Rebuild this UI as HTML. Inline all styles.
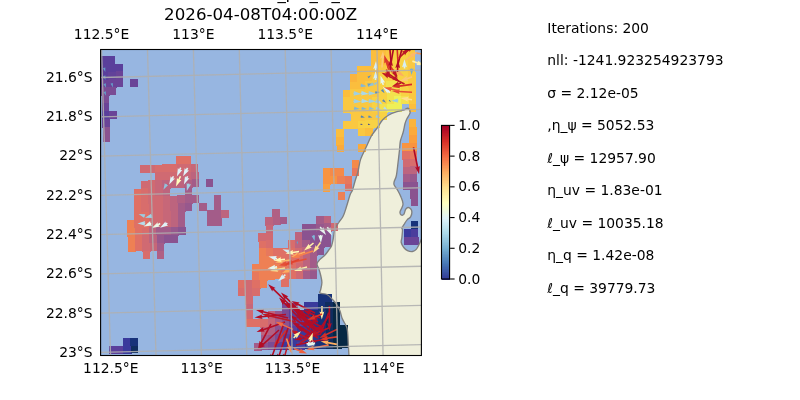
<!DOCTYPE html>
<html><head><meta charset="utf-8"><title>plot</title>
<style>
html,body{margin:0;padding:0;background:#fff;}
svg{display:block;}
text{font-family:"DejaVu Sans","Liberation Sans",sans-serif;fill:#000;}
.t10{font-size:13.89px;}
.t12{font-size:16.67px;}
</style></head><body>
<svg width="800" height="400" viewBox="0 0 800 400">
<rect width="800" height="400" fill="#fff"/>
<defs><clipPath id="ax"><rect x="100.60" y="49.50" width="320.80" height="306.00"/></clipPath>
</defs>
<rect x="100.60" y="49.50" width="320.80" height="306.00" fill="#97b6e1"/>
<g clip-path="url(#ax)">
<path d="M421.5 239.0 C421.1 239.8 420.3 242.0 419.4 243.8 C418.5 245.5 417.4 248.1 416.2 249.4 C415.1 250.7 414.0 251.3 412.5 251.5 C411.0 251.7 409.0 251.3 407.5 250.6 C406.0 249.9 404.8 248.8 403.8 247.5 C402.7 246.2 401.6 244.2 401.2 242.5 C400.9 240.8 401.7 239.6 401.9 237.5 C402.1 235.4 402.5 231.6 402.5 230.0 C402.5 228.4 401.6 229.0 401.9 228.0 C402.2 227.0 403.5 225.2 404.4 223.8 C405.3 222.3 406.5 220.5 407.5 219.4 C408.5 218.3 409.9 218.2 410.6 216.9 C411.3 215.7 411.9 213.3 411.9 211.9 C411.9 210.5 411.2 209.5 410.6 208.8 C410.0 208.0 408.8 207.4 408.0 207.5 C407.2 207.6 406.3 208.2 405.6 209.4 C404.9 210.6 404.5 213.5 403.8 214.4 C403.0 215.3 401.9 215.4 401.2 215.0 C400.6 214.6 399.9 213.2 400.0 212.0 C400.1 210.8 401.5 208.9 402.0 207.5 C402.5 206.1 403.1 205.4 403.0 203.8 C402.9 202.1 402.2 199.8 401.2 197.5 C400.3 195.2 398.7 192.1 397.5 190.0 C396.3 187.9 394.8 186.4 394.2 185.0 C393.6 183.6 393.8 183.1 394.2 181.5 C394.6 179.9 395.8 178.6 396.4 175.5 C397.0 172.4 397.5 167.2 398.0 163.0 C398.5 158.8 399.1 153.7 399.5 150.0 C399.9 146.3 399.8 143.9 400.4 141.0 C401.0 138.1 402.3 135.4 403.1 132.5 C403.9 129.6 404.4 126.0 405.0 123.8 C405.6 121.5 406.1 120.5 406.9 118.8 C407.7 117.0 409.6 114.7 410.0 113.1 C410.4 111.5 409.9 110.2 409.4 109.4 C408.9 108.6 407.8 108.2 406.9 108.3 C406.0 108.4 405.5 109.4 403.8 110.0 C402.0 110.6 398.8 111.1 396.2 111.9 C393.8 112.7 391.0 113.7 388.8 115.0 C386.5 116.3 384.4 117.9 382.5 120.0 C380.6 122.1 379.4 124.8 377.5 127.5 C375.6 130.2 373.1 133.0 371.2 136.2 C369.4 139.5 368.0 143.1 366.2 147.0 C364.5 150.9 362.0 155.4 360.6 159.4 C359.2 163.4 359.0 167.6 358.1 171.2 C357.2 174.9 355.9 178.1 355.0 181.2 C354.1 184.4 353.3 187.7 352.5 190.0 C351.7 192.3 351.0 192.1 350.0 195.0 C349.0 197.9 347.4 204.0 346.2 207.5 C345.1 211.0 344.4 213.8 343.1 216.2 C341.9 218.8 340.1 220.4 338.8 222.5 C337.4 224.6 336.0 226.1 335.0 229.0 C334.0 231.9 333.6 237.2 333.0 240.0 C332.4 242.8 332.2 244.3 331.5 246.0 C330.8 247.7 329.8 248.5 328.8 250.0 C327.7 251.5 326.5 253.4 325.0 255.0 C323.5 256.6 321.3 257.9 320.0 259.4 C318.7 260.9 317.2 262.2 317.0 263.8 C316.8 265.3 318.1 266.9 318.8 268.8 C319.4 270.6 320.1 272.7 320.6 275.0 C321.1 277.3 321.9 280.0 321.9 282.5 C321.9 285.0 320.9 288.2 320.6 290.0 C320.3 291.8 318.9 292.2 320.0 293.0 C321.1 293.8 324.8 293.3 327.0 294.5 C329.2 295.7 331.3 298.2 333.0 300.0 C334.7 301.8 335.8 303.2 337.0 305.0 C338.2 306.8 339.2 308.8 340.0 311.0 C340.8 313.2 341.3 316.2 342.0 318.0 C342.7 319.8 343.2 320.3 344.0 322.0 C344.8 323.7 346.3 325.3 347.0 328.0 C347.7 330.7 347.8 334.7 348.0 338.0 C348.2 341.3 348.3 345.0 348.5 348.0 C348.7 351.0 348.9 354.7 349.0 356.0 L421.5 356 L421.5 239 Z" fill="#efefdb"/>
<g shape-rendering="crispEdges">
<rect x="101.0" y="56.0" width="8.0" height="9.0" fill="#5a3f9b"/>
<rect x="108.0" y="56.0" width="7.0" height="9.0" fill="#5a3f9b"/>
<rect x="371.0" y="50.0" width="9.0" height="9.0" fill="#fbbe3d"/>
<rect x="379.0" y="49.0" width="8.0" height="9.0" fill="#fbbe3d"/>
<rect x="386.0" y="49.0" width="8.0" height="9.0" fill="#fac841"/>
<rect x="393.0" y="49.0" width="8.0" height="9.0" fill="#f8d244"/>
<rect x="400.0" y="49.0" width="9.0" height="9.0" fill="#f8d244"/>
<rect x="408.0" y="49.0" width="7.0" height="9.0" fill="#fac841"/>
<rect x="101.0" y="64.0" width="8.0" height="9.0" fill="#5a3f9b"/>
<rect x="108.0" y="64.0" width="8.0" height="9.0" fill="#5a3f9b"/>
<rect x="115.0" y="64.0" width="8.0" height="8.0" fill="#5a3f9b"/>
<rect x="371.0" y="58.0" width="9.0" height="8.0" fill="#fbbe3d"/>
<rect x="379.0" y="57.0" width="8.0" height="9.0" fill="#fbbe3d"/>
<rect x="386.0" y="57.0" width="8.0" height="9.0" fill="#fac841"/>
<rect x="393.0" y="57.0" width="9.0" height="9.0" fill="#f8d244"/>
<rect x="401.0" y="57.0" width="8.0" height="9.0" fill="#f8d244"/>
<rect x="408.0" y="57.0" width="7.0" height="8.0" fill="#fac841"/>
<rect x="101.0" y="72.0" width="8.0" height="9.0" fill="#5a3f9b"/>
<rect x="108.0" y="72.0" width="9.0" height="8.0" fill="#624299"/>
<rect x="116.0" y="71.0" width="7.0" height="9.0" fill="#6a4497"/>
<rect x="357.0" y="66.0" width="8.0" height="9.0" fill="#fbbe3d"/>
<rect x="364.0" y="66.0" width="9.0" height="8.0" fill="#fbbe3d"/>
<rect x="372.0" y="65.0" width="8.0" height="9.0" fill="#fbbe3d"/>
<rect x="379.0" y="65.0" width="8.0" height="9.0" fill="#fac841"/>
<rect x="386.0" y="65.0" width="8.0" height="9.0" fill="#f8d244"/>
<rect x="393.0" y="65.0" width="9.0" height="9.0" fill="#f8d244"/>
<rect x="401.0" y="65.0" width="8.0" height="8.0" fill="#f8d244"/>
<rect x="408.0" y="64.0" width="7.0" height="9.0" fill="#fac841"/>
<rect x="101.0" y="80.0" width="9.0" height="8.0" fill="#6a4497"/>
<rect x="109.0" y="79.0" width="8.0" height="9.0" fill="#6a4497"/>
<rect x="116.0" y="79.0" width="7.0" height="8.0" fill="#6a4497"/>
<rect x="130.0" y="79.0" width="8.0" height="8.0" fill="#6a4497"/>
<rect x="350.0" y="74.0" width="8.0" height="9.0" fill="#fbb43c"/>
<rect x="357.0" y="74.0" width="8.0" height="8.0" fill="#fbbe3d"/>
<rect x="364.0" y="73.0" width="9.0" height="9.0" fill="#fbbe3d"/>
<rect x="372.0" y="73.0" width="8.0" height="9.0" fill="#fac841"/>
<rect x="379.0" y="73.0" width="8.0" height="9.0" fill="#f8d244"/>
<rect x="386.0" y="73.0" width="9.0" height="9.0" fill="#f8d244"/>
<rect x="394.0" y="73.0" width="8.0" height="9.0" fill="#f8d244"/>
<rect x="401.0" y="72.0" width="8.0" height="9.0" fill="#f8d244"/>
<rect x="408.0" y="72.0" width="8.0" height="9.0" fill="#fac841"/>
<rect x="101.0" y="87.0" width="9.0" height="9.0" fill="#7a4c94"/>
<rect x="109.0" y="87.0" width="7.0" height="8.0" fill="#7a4c94"/>
<rect x="350.0" y="82.0" width="8.0" height="8.0" fill="#fbbe3d"/>
<rect x="357.0" y="81.0" width="9.0" height="9.0" fill="#fbbe3d"/>
<rect x="365.0" y="81.0" width="8.0" height="9.0" fill="#fac841"/>
<rect x="372.0" y="81.0" width="8.0" height="9.0" fill="#fac841"/>
<rect x="379.0" y="81.0" width="8.0" height="9.0" fill="#f8d244"/>
<rect x="386.0" y="81.0" width="9.0" height="9.0" fill="#f3e14e"/>
<rect x="394.0" y="81.0" width="8.0" height="8.0" fill="#f3e14e"/>
<rect x="401.0" y="80.0" width="8.0" height="9.0" fill="#f8d244"/>
<rect x="408.0" y="80.0" width="8.0" height="9.0" fill="#fac841"/>
<rect x="102.0" y="95.0" width="7.0" height="9.0" fill="#7a4c94"/>
<rect x="343.0" y="90.0" width="8.0" height="8.0" fill="#fbbe3d"/>
<rect x="350.0" y="89.0" width="8.0" height="9.0" fill="#fac841"/>
<rect x="357.0" y="89.0" width="9.0" height="9.0" fill="#fac841"/>
<rect x="365.0" y="89.0" width="8.0" height="9.0" fill="#fac841"/>
<rect x="372.0" y="89.0" width="8.0" height="9.0" fill="#fac841"/>
<rect x="379.0" y="89.0" width="9.0" height="9.0" fill="#f8d244"/>
<rect x="387.0" y="89.0" width="8.0" height="8.0" fill="#f3e14e"/>
<rect x="394.0" y="88.0" width="8.0" height="9.0" fill="#f3e14e"/>
<rect x="401.0" y="88.0" width="9.0" height="9.0" fill="#f8d244"/>
<rect x="409.0" y="88.0" width="7.0" height="9.0" fill="#fac841"/>
<rect x="102.0" y="103.0" width="7.0" height="9.0" fill="#6a4497"/>
<rect x="343.0" y="97.0" width="8.0" height="9.0" fill="#fac841"/>
<rect x="350.0" y="97.0" width="9.0" height="9.0" fill="#fac841"/>
<rect x="358.0" y="97.0" width="8.0" height="9.0" fill="#fac841"/>
<rect x="365.0" y="97.0" width="8.0" height="9.0" fill="#fac841"/>
<rect x="372.0" y="97.0" width="8.0" height="9.0" fill="#f8d244"/>
<rect x="379.0" y="97.0" width="9.0" height="8.0" fill="#f8d244"/>
<rect x="387.0" y="96.0" width="8.0" height="9.0" fill="#f3e14e"/>
<rect x="394.0" y="96.0" width="8.0" height="9.0" fill="#eef058"/>
<rect x="401.0" y="96.0" width="9.0" height="8.0" fill="#f3e14e"/>
<rect x="409.0" y="96.0" width="7.0" height="9.0" fill="#fac841"/>
<rect x="102.0" y="111.0" width="8.0" height="9.0" fill="#5a3f9b"/>
<rect x="109.0" y="111.0" width="8.0" height="8.0" fill="#6a4497"/>
<rect x="343.0" y="105.0" width="8.0" height="8.0" fill="#fac841"/>
<rect x="350.0" y="105.0" width="9.0" height="9.0" fill="#fac841"/>
<rect x="358.0" y="105.0" width="8.0" height="9.0" fill="#fac841"/>
<rect x="365.0" y="105.0" width="8.0" height="9.0" fill="#fac841"/>
<rect x="372.0" y="105.0" width="9.0" height="8.0" fill="#f8d244"/>
<rect x="380.0" y="104.0" width="8.0" height="9.0" fill="#f3e14e"/>
<rect x="387.0" y="104.0" width="8.0" height="8.0" fill="#eef058"/>
<rect x="394.0" y="104.0" width="8.0" height="8.0" fill="#eef058"/>
<rect x="409.0" y="104.0" width="7.0" height="8.0" fill="#fbbe3d"/>
<rect x="102.0" y="119.0" width="8.0" height="9.0" fill="#6a4497"/>
<rect x="351.0" y="113.0" width="8.0" height="9.0" fill="#fac841"/>
<rect x="358.0" y="113.0" width="8.0" height="9.0" fill="#fac841"/>
<rect x="365.0" y="113.0" width="8.0" height="8.0" fill="#fac841"/>
<rect x="372.0" y="112.0" width="9.0" height="9.0" fill="#fac841"/>
<rect x="380.0" y="112.0" width="7.0" height="8.0" fill="#f8d244"/>
<rect x="103.0" y="127.0" width="7.0" height="8.0" fill="#8a5390"/>
<rect x="343.0" y="121.0" width="9.0" height="8.0" fill="#fac841"/>
<rect x="351.0" y="121.0" width="8.0" height="8.0" fill="#fac841"/>
<rect x="358.0" y="121.0" width="8.0" height="8.0" fill="#f8d244"/>
<rect x="365.0" y="120.0" width="9.0" height="9.0" fill="#f8d244"/>
<rect x="373.0" y="120.0" width="7.0" height="8.0" fill="#f8d244"/>
<rect x="409.0" y="119.0" width="7.0" height="9.0" fill="#fbb43c"/>
<rect x="103.0" y="134.0" width="7.0" height="8.0" fill="#8a5390"/>
<rect x="336.0" y="129.0" width="8.0" height="9.0" fill="#fbbe3d"/>
<rect x="358.0" y="128.0" width="8.0" height="8.0" fill="#fac841"/>
<rect x="365.0" y="128.0" width="8.0" height="8.0" fill="#fbbe3d"/>
<rect x="409.0" y="127.0" width="8.0" height="9.0" fill="#fbaa3b"/>
<rect x="336.0" y="137.0" width="8.0" height="9.0" fill="#fbb43c"/>
<rect x="409.0" y="135.0" width="8.0" height="9.0" fill="#fa9f3e"/>
<rect x="337.0" y="145.0" width="7.0" height="7.0" fill="#fbaa3b"/>
<rect x="358.0" y="144.0" width="8.0" height="8.0" fill="#fbaa3b"/>
<rect x="402.0" y="143.0" width="9.0" height="9.0" fill="#f99440"/>
<rect x="410.0" y="143.0" width="7.0" height="9.0" fill="#f99440"/>
<rect x="176.0" y="156.0" width="9.0" height="9.0" fill="#df7065"/>
<rect x="184.0" y="156.0" width="7.0" height="9.0" fill="#df7065"/>
<rect x="402.0" y="151.0" width="9.0" height="9.0" fill="#df7065"/>
<rect x="410.0" y="151.0" width="7.0" height="9.0" fill="#e7785d"/>
<rect x="140.0" y="165.0" width="8.0" height="8.0" fill="#d06a72"/>
<rect x="147.0" y="165.0" width="9.0" height="8.0" fill="#d06a72"/>
<rect x="155.0" y="165.0" width="8.0" height="8.0" fill="#d86d6c"/>
<rect x="162.0" y="164.0" width="8.0" height="9.0" fill="#d86d6c"/>
<rect x="169.0" y="164.0" width="9.0" height="9.0" fill="#d86d6c"/>
<rect x="177.0" y="164.0" width="8.0" height="9.0" fill="#d06a72"/>
<rect x="184.0" y="164.0" width="8.0" height="9.0" fill="#d06a72"/>
<rect x="191.0" y="164.0" width="7.0" height="9.0" fill="#c76778"/>
<rect x="352.0" y="160.0" width="7.0" height="9.0" fill="#f48a4a"/>
<rect x="403.0" y="159.0" width="8.0" height="9.0" fill="#d06a72"/>
<rect x="410.0" y="159.0" width="7.0" height="8.0" fill="#d86d6c"/>
<rect x="155.0" y="172.0" width="8.0" height="9.0" fill="#d06a72"/>
<rect x="162.0" y="172.0" width="9.0" height="9.0" fill="#d06a72"/>
<rect x="170.0" y="172.0" width="8.0" height="9.0" fill="#d06a72"/>
<rect x="177.0" y="172.0" width="8.0" height="9.0" fill="#c76778"/>
<rect x="184.0" y="172.0" width="8.0" height="9.0" fill="#c76778"/>
<rect x="191.0" y="172.0" width="8.0" height="8.0" fill="#bd647e"/>
<rect x="323.0" y="168.0" width="8.0" height="9.0" fill="#f99440"/>
<rect x="330.0" y="168.0" width="8.0" height="9.0" fill="#f48a4a"/>
<rect x="337.0" y="168.0" width="7.0" height="9.0" fill="#f48a4a"/>
<rect x="352.0" y="168.0" width="7.0" height="8.0" fill="#e7785d"/>
<rect x="403.0" y="167.0" width="8.0" height="8.0" fill="#bd647e"/>
<rect x="410.0" y="166.0" width="7.0" height="9.0" fill="#bd647e"/>
<rect x="141.0" y="181.0" width="8.0" height="8.0" fill="#d06a72"/>
<rect x="148.0" y="180.0" width="8.0" height="9.0" fill="#d06a72"/>
<rect x="155.0" y="180.0" width="8.0" height="9.0" fill="#c76778"/>
<rect x="162.0" y="180.0" width="9.0" height="9.0" fill="#bd647e"/>
<rect x="170.0" y="180.0" width="8.0" height="8.0" fill="#bd647e"/>
<rect x="177.0" y="180.0" width="8.0" height="8.0" fill="#bd647e"/>
<rect x="184.0" y="180.0" width="9.0" height="8.0" fill="#b06084"/>
<rect x="192.0" y="179.0" width="7.0" height="8.0" fill="#a35c89"/>
<rect x="206.0" y="179.0" width="7.0" height="8.0" fill="#8a5390"/>
<rect x="323.0" y="176.0" width="8.0" height="9.0" fill="#f99440"/>
<rect x="330.0" y="176.0" width="8.0" height="8.0" fill="#f99440"/>
<rect x="337.0" y="176.0" width="9.0" height="8.0" fill="#ee8054"/>
<rect x="345.0" y="176.0" width="7.0" height="9.0" fill="#e7785d"/>
<rect x="403.0" y="174.0" width="8.0" height="9.0" fill="#a35c89"/>
<rect x="410.0" y="174.0" width="7.0" height="9.0" fill="#97588d"/>
<rect x="134.0" y="189.0" width="8.0" height="8.0" fill="#df7065"/>
<rect x="141.0" y="188.0" width="8.0" height="9.0" fill="#d86d6c"/>
<rect x="148.0" y="188.0" width="8.0" height="9.0" fill="#d06a72"/>
<rect x="155.0" y="188.0" width="9.0" height="9.0" fill="#c76778"/>
<rect x="163.0" y="188.0" width="7.0" height="9.0" fill="#bd647e"/>
<rect x="185.0" y="187.0" width="7.0" height="9.0" fill="#a35c89"/>
<rect x="323.0" y="184.0" width="7.0" height="8.0" fill="#fa9f3e"/>
<rect x="345.0" y="184.0" width="7.0" height="7.0" fill="#df7065"/>
<rect x="403.0" y="182.0" width="8.0" height="8.0" fill="#8a5390"/>
<rect x="410.0" y="182.0" width="8.0" height="9.0" fill="#8a5390"/>
<rect x="134.0" y="196.0" width="8.0" height="9.0" fill="#df7065"/>
<rect x="141.0" y="196.0" width="8.0" height="9.0" fill="#d86d6c"/>
<rect x="148.0" y="196.0" width="9.0" height="9.0" fill="#d06a72"/>
<rect x="156.0" y="196.0" width="8.0" height="9.0" fill="#d06a72"/>
<rect x="163.0" y="196.0" width="8.0" height="9.0" fill="#c76778"/>
<rect x="170.0" y="196.0" width="8.0" height="8.0" fill="#bd647e"/>
<rect x="177.0" y="195.0" width="9.0" height="9.0" fill="#b06084"/>
<rect x="185.0" y="195.0" width="8.0" height="9.0" fill="#a35c89"/>
<rect x="192.0" y="195.0" width="7.0" height="8.0" fill="#a35c89"/>
<rect x="214.0" y="195.0" width="7.0" height="8.0" fill="#a35c89"/>
<rect x="338.0" y="192.0" width="7.0" height="8.0" fill="#ee8054"/>
<rect x="410.0" y="190.0" width="8.0" height="9.0" fill="#8a5390"/>
<rect x="134.0" y="204.0" width="8.0" height="9.0" fill="#df7065"/>
<rect x="141.0" y="204.0" width="9.0" height="9.0" fill="#d86d6c"/>
<rect x="149.0" y="204.0" width="8.0" height="9.0" fill="#d06a72"/>
<rect x="156.0" y="204.0" width="8.0" height="9.0" fill="#d06a72"/>
<rect x="163.0" y="204.0" width="8.0" height="8.0" fill="#c76778"/>
<rect x="170.0" y="203.0" width="9.0" height="9.0" fill="#bd647e"/>
<rect x="178.0" y="203.0" width="8.0" height="9.0" fill="#a35c89"/>
<rect x="185.0" y="203.0" width="7.0" height="8.0" fill="#97588d"/>
<rect x="199.0" y="203.0" width="8.0" height="8.0" fill="#a35c89"/>
<rect x="214.0" y="202.0" width="7.0" height="9.0" fill="#a35c89"/>
<rect x="411.0" y="198.0" width="7.0" height="8.0" fill="#8a5390"/>
<rect x="134.0" y="212.0" width="8.0" height="9.0" fill="#df7065"/>
<rect x="141.0" y="212.0" width="9.0" height="9.0" fill="#df7065"/>
<rect x="149.0" y="212.0" width="8.0" height="9.0" fill="#d06a72"/>
<rect x="156.0" y="212.0" width="8.0" height="8.0" fill="#d06a72"/>
<rect x="163.0" y="211.0" width="9.0" height="9.0" fill="#c76778"/>
<rect x="171.0" y="211.0" width="8.0" height="9.0" fill="#bd647e"/>
<rect x="178.0" y="211.0" width="7.0" height="9.0" fill="#a35c89"/>
<rect x="207.0" y="210.0" width="8.0" height="9.0" fill="#a35c89"/>
<rect x="214.0" y="210.0" width="8.0" height="9.0" fill="#a35c89"/>
<rect x="221.0" y="210.0" width="8.0" height="8.0" fill="#bd647e"/>
<rect x="272.0" y="209.0" width="8.0" height="9.0" fill="#b06084"/>
<rect x="127.0" y="220.0" width="8.0" height="9.0" fill="#ee8054"/>
<rect x="134.0" y="220.0" width="9.0" height="9.0" fill="#df7065"/>
<rect x="142.0" y="220.0" width="8.0" height="9.0" fill="#df7065"/>
<rect x="149.0" y="220.0" width="8.0" height="8.0" fill="#d06a72"/>
<rect x="156.0" y="219.0" width="8.0" height="9.0" fill="#d06a72"/>
<rect x="163.0" y="219.0" width="9.0" height="9.0" fill="#c76778"/>
<rect x="171.0" y="219.0" width="8.0" height="9.0" fill="#bd647e"/>
<rect x="178.0" y="219.0" width="7.0" height="9.0" fill="#a35c89"/>
<rect x="207.0" y="218.0" width="8.0" height="8.0" fill="#a35c89"/>
<rect x="214.0" y="218.0" width="8.0" height="8.0" fill="#a35c89"/>
<rect x="265.0" y="217.0" width="9.0" height="9.0" fill="#bd647e"/>
<rect x="273.0" y="217.0" width="8.0" height="8.0" fill="#b06084"/>
<rect x="280.0" y="217.0" width="7.0" height="7.0" fill="#a35c89"/>
<rect x="316.0" y="216.0" width="9.0" height="9.0" fill="#a35c89"/>
<rect x="324.0" y="216.0" width="7.0" height="8.0" fill="#bd647e"/>
<rect x="127.0" y="228.0" width="9.0" height="9.0" fill="#ee8054"/>
<rect x="135.0" y="228.0" width="8.0" height="9.0" fill="#df7065"/>
<rect x="142.0" y="228.0" width="8.0" height="8.0" fill="#d86d6c"/>
<rect x="149.0" y="227.0" width="8.0" height="9.0" fill="#bd647e"/>
<rect x="156.0" y="227.0" width="9.0" height="9.0" fill="#a35c89"/>
<rect x="164.0" y="227.0" width="8.0" height="9.0" fill="#a35c89"/>
<rect x="171.0" y="227.0" width="8.0" height="9.0" fill="#97588d"/>
<rect x="178.0" y="227.0" width="8.0" height="8.0" fill="#8a5390"/>
<rect x="266.0" y="225.0" width="7.0" height="9.0" fill="#c76778"/>
<rect x="302.0" y="224.0" width="8.0" height="9.0" fill="#8a5390"/>
<rect x="309.0" y="224.0" width="8.0" height="9.0" fill="#8a5390"/>
<rect x="316.0" y="224.0" width="9.0" height="8.0" fill="#97588d"/>
<rect x="324.0" y="223.0" width="8.0" height="9.0" fill="#a35c89"/>
<rect x="331.0" y="223.0" width="7.0" height="8.0" fill="#d06a72"/>
<rect x="411.0" y="221.0" width="7.0" height="9.0" fill="#17327a"/>
<rect x="128.0" y="236.0" width="8.0" height="9.0" fill="#ee8054"/>
<rect x="135.0" y="236.0" width="8.0" height="8.0" fill="#df7065"/>
<rect x="142.0" y="235.0" width="8.0" height="9.0" fill="#d06a72"/>
<rect x="149.0" y="235.0" width="9.0" height="9.0" fill="#bd647e"/>
<rect x="157.0" y="235.0" width="8.0" height="9.0" fill="#97588d"/>
<rect x="164.0" y="235.0" width="8.0" height="8.0" fill="#8a5390"/>
<rect x="171.0" y="235.0" width="7.0" height="8.0" fill="#8a5390"/>
<rect x="258.0" y="233.0" width="9.0" height="9.0" fill="#d06a72"/>
<rect x="266.0" y="233.0" width="7.0" height="8.0" fill="#d06a72"/>
<rect x="295.0" y="232.0" width="8.0" height="9.0" fill="#bd647e"/>
<rect x="302.0" y="232.0" width="8.0" height="9.0" fill="#8a5390"/>
<rect x="309.0" y="232.0" width="9.0" height="8.0" fill="#8a5390"/>
<rect x="317.0" y="231.0" width="8.0" height="9.0" fill="#8a5390"/>
<rect x="324.0" y="231.0" width="7.0" height="9.0" fill="#8a5390"/>
<rect x="404.0" y="229.0" width="8.0" height="9.0" fill="#3a3a9c"/>
<rect x="411.0" y="229.0" width="7.0" height="9.0" fill="#4a3d9c"/>
<rect x="128.0" y="244.0" width="8.0" height="8.0" fill="#ee8054"/>
<rect x="135.0" y="243.0" width="8.0" height="8.0" fill="#df7065"/>
<rect x="142.0" y="243.0" width="9.0" height="9.0" fill="#d06a72"/>
<rect x="150.0" y="243.0" width="8.0" height="8.0" fill="#c76778"/>
<rect x="157.0" y="243.0" width="7.0" height="9.0" fill="#a35c89"/>
<rect x="259.0" y="241.0" width="8.0" height="8.0" fill="#df7065"/>
<rect x="266.0" y="240.0" width="7.0" height="9.0" fill="#d86d6c"/>
<rect x="288.0" y="240.0" width="8.0" height="9.0" fill="#d86d6c"/>
<rect x="295.0" y="240.0" width="8.0" height="9.0" fill="#bd647e"/>
<rect x="302.0" y="240.0" width="9.0" height="8.0" fill="#a35c89"/>
<rect x="310.0" y="239.0" width="8.0" height="9.0" fill="#8a5390"/>
<rect x="317.0" y="239.0" width="8.0" height="9.0" fill="#8a5390"/>
<rect x="324.0" y="239.0" width="7.0" height="8.0" fill="#8a5390"/>
<rect x="404.0" y="237.0" width="8.0" height="8.0" fill="#6a4497"/>
<rect x="411.0" y="237.0" width="8.0" height="8.0" fill="#6a4497"/>
<rect x="143.0" y="251.0" width="7.0" height="8.0" fill="#d86d6c"/>
<rect x="157.0" y="251.0" width="7.0" height="8.0" fill="#b06084"/>
<rect x="259.0" y="248.0" width="8.0" height="9.0" fill="#ee8054"/>
<rect x="266.0" y="248.0" width="8.0" height="9.0" fill="#e7785d"/>
<rect x="273.0" y="248.0" width="9.0" height="9.0" fill="#df7065"/>
<rect x="281.0" y="248.0" width="8.0" height="9.0" fill="#df7065"/>
<rect x="288.0" y="248.0" width="8.0" height="9.0" fill="#df7065"/>
<rect x="295.0" y="248.0" width="8.0" height="8.0" fill="#d06a72"/>
<rect x="302.0" y="247.0" width="9.0" height="9.0" fill="#bd647e"/>
<rect x="310.0" y="247.0" width="8.0" height="9.0" fill="#a35c89"/>
<rect x="317.0" y="247.0" width="7.0" height="8.0" fill="#8a5390"/>
<rect x="259.0" y="256.0" width="8.0" height="9.0" fill="#ee8054"/>
<rect x="266.0" y="256.0" width="9.0" height="9.0" fill="#ee8054"/>
<rect x="274.0" y="256.0" width="8.0" height="9.0" fill="#e7785d"/>
<rect x="281.0" y="256.0" width="8.0" height="9.0" fill="#df7065"/>
<rect x="288.0" y="256.0" width="8.0" height="8.0" fill="#df7065"/>
<rect x="295.0" y="255.0" width="9.0" height="9.0" fill="#d86d6c"/>
<rect x="303.0" y="255.0" width="8.0" height="9.0" fill="#bd647e"/>
<rect x="310.0" y="255.0" width="7.0" height="9.0" fill="#a35c89"/>
<rect x="252.0" y="264.0" width="8.0" height="9.0" fill="#ee8054"/>
<rect x="259.0" y="264.0" width="8.0" height="9.0" fill="#ee8054"/>
<rect x="266.0" y="264.0" width="9.0" height="9.0" fill="#ee8054"/>
<rect x="274.0" y="264.0" width="8.0" height="9.0" fill="#ee8054"/>
<rect x="281.0" y="264.0" width="8.0" height="8.0" fill="#e7785d"/>
<rect x="288.0" y="263.0" width="9.0" height="9.0" fill="#df7065"/>
<rect x="296.0" y="263.0" width="8.0" height="9.0" fill="#d06a72"/>
<rect x="303.0" y="263.0" width="8.0" height="9.0" fill="#bd647e"/>
<rect x="310.0" y="263.0" width="7.0" height="9.0" fill="#a35c89"/>
<rect x="252.0" y="272.0" width="8.0" height="9.0" fill="#e7785d"/>
<rect x="259.0" y="272.0" width="9.0" height="9.0" fill="#ee8054"/>
<rect x="267.0" y="272.0" width="8.0" height="8.0" fill="#ee8054"/>
<rect x="274.0" y="272.0" width="8.0" height="7.0" fill="#ee8054"/>
<rect x="281.0" y="271.0" width="8.0" height="9.0" fill="#e7785d"/>
<rect x="288.0" y="271.0" width="9.0" height="8.0" fill="#df7065"/>
<rect x="296.0" y="271.0" width="8.0" height="8.0" fill="#d06a72"/>
<rect x="303.0" y="271.0" width="8.0" height="8.0" fill="#a35c89"/>
<rect x="310.0" y="271.0" width="7.0" height="8.0" fill="#97588d"/>
<rect x="238.0" y="280.0" width="8.0" height="9.0" fill="#df7065"/>
<rect x="245.0" y="280.0" width="8.0" height="9.0" fill="#d06a72"/>
<rect x="252.0" y="280.0" width="9.0" height="9.0" fill="#df7065"/>
<rect x="260.0" y="280.0" width="7.0" height="8.0" fill="#ee8054"/>
<rect x="281.0" y="279.0" width="8.0" height="8.0" fill="#df7065"/>
<rect x="238.0" y="288.0" width="8.0" height="8.0" fill="#d86d6c"/>
<rect x="245.0" y="288.0" width="8.0" height="9.0" fill="#d06a72"/>
<rect x="252.0" y="288.0" width="8.0" height="8.0" fill="#d86d6c"/>
<rect x="245.0" y="296.0" width="8.0" height="9.0" fill="#d06a72"/>
<rect x="246.0" y="304.0" width="7.0" height="8.0" fill="#c76778"/>
<rect x="282.0" y="303.0" width="8.0" height="9.0" fill="#7a4c94"/>
<rect x="289.0" y="303.0" width="7.0" height="8.0" fill="#6a4497"/>
<rect x="246.0" y="311.0" width="7.0" height="9.0" fill="#d06a72"/>
<rect x="268.0" y="311.0" width="8.0" height="9.0" fill="#bd647e"/>
<rect x="275.0" y="311.0" width="8.0" height="9.0" fill="#97588d"/>
<rect x="282.0" y="311.0" width="8.0" height="8.0" fill="#7a4c94"/>
<rect x="289.0" y="310.0" width="9.0" height="9.0" fill="#5a3f9b"/>
<rect x="297.0" y="310.0" width="7.0" height="9.0" fill="#3a3a9c"/>
<rect x="246.0" y="319.0" width="8.0" height="8.0" fill="#df7065"/>
<rect x="253.0" y="319.0" width="8.0" height="8.0" fill="#df7065"/>
<rect x="260.0" y="319.0" width="9.0" height="9.0" fill="#d86d6c"/>
<rect x="268.0" y="319.0" width="8.0" height="9.0" fill="#c76778"/>
<rect x="275.0" y="319.0" width="8.0" height="8.0" fill="#a35c89"/>
<rect x="282.0" y="318.0" width="8.0" height="9.0" fill="#8a5390"/>
<rect x="289.0" y="318.0" width="9.0" height="9.0" fill="#6a4497"/>
<rect x="297.0" y="318.0" width="7.0" height="9.0" fill="#5a3f9b"/>
<rect x="261.0" y="327.0" width="8.0" height="9.0" fill="#bd647e"/>
<rect x="268.0" y="327.0" width="8.0" height="9.0" fill="#b06084"/>
<rect x="275.0" y="326.0" width="8.0" height="9.0" fill="#8a5390"/>
<rect x="282.0" y="326.0" width="9.0" height="9.0" fill="#6a4497"/>
<rect x="290.0" y="326.0" width="8.0" height="9.0" fill="#5a3f9b"/>
<rect x="297.0" y="326.0" width="7.0" height="9.0" fill="#3a3a9c"/>
<rect x="123.0" y="338.0" width="8.0" height="9.0" fill="#3a3a9c"/>
<rect x="130.0" y="338.0" width="8.0" height="9.0" fill="#17327a"/>
<rect x="261.0" y="335.0" width="8.0" height="9.0" fill="#a35c89"/>
<rect x="268.0" y="335.0" width="8.0" height="8.0" fill="#97588d"/>
<rect x="275.0" y="334.0" width="9.0" height="9.0" fill="#7a4c94"/>
<rect x="283.0" y="334.0" width="8.0" height="9.0" fill="#5a3f9b"/>
<rect x="290.0" y="334.0" width="8.0" height="9.0" fill="#3a3a9c"/>
<rect x="297.0" y="334.0" width="7.0" height="9.0" fill="#3a3a9c"/>
<rect x="109.0" y="346.0" width="8.0" height="8.0" fill="#5a3f9b"/>
<rect x="116.0" y="346.0" width="8.0" height="8.0" fill="#5a3f9b"/>
<rect x="123.0" y="346.0" width="9.0" height="8.0" fill="#3a3a9c"/>
<rect x="131.0" y="346.0" width="7.0" height="7.0" fill="#0f2d5f"/>
<rect x="254.0" y="343.0" width="8.0" height="8.0" fill="#a35c89"/>
<rect x="261.0" y="343.0" width="8.0" height="7.0" fill="#8a5390"/>
<rect x="268.0" y="342.0" width="9.0" height="8.0" fill="#7a4c94"/>
<rect x="276.0" y="342.0" width="8.0" height="8.0" fill="#5a3f9b"/>
<rect x="283.0" y="342.0" width="8.0" height="8.0" fill="#3a3a9c"/>
<rect x="290.0" y="342.0" width="8.0" height="8.0" fill="#3a3a9c"/>
<rect x="297.0" y="342.0" width="8.0" height="8.0" fill="#4a3d9c"/>
</g>
<g shape-rendering="crispEdges">
<rect x="318.0" y="294.0" width="8.0" height="9.0" fill="#17327a"/>
<rect x="325.0" y="294.0" width="7.0" height="9.0" fill="#17327a"/>
<rect x="304.0" y="302.0" width="8.0" height="9.0" fill="#3a3a9c"/>
<rect x="311.0" y="302.0" width="8.0" height="9.0" fill="#3a3a9c"/>
<rect x="318.0" y="302.0" width="8.0" height="9.0" fill="#17327a"/>
<rect x="325.0" y="302.0" width="9.0" height="9.0" fill="#0f2d5f"/>
<rect x="333.0" y="302.0" width="7.0" height="8.0" fill="#062844"/>
<rect x="304.0" y="310.0" width="8.0" height="9.0" fill="#29368b"/>
<rect x="311.0" y="310.0" width="8.0" height="9.0" fill="#17327a"/>
<rect x="318.0" y="310.0" width="9.0" height="9.0" fill="#17327a"/>
<rect x="326.0" y="310.0" width="8.0" height="8.0" fill="#0f2d5f"/>
<rect x="333.0" y="309.0" width="7.0" height="9.0" fill="#062844"/>
<rect x="304.0" y="318.0" width="8.0" height="9.0" fill="#3a3a9c"/>
<rect x="311.0" y="318.0" width="8.0" height="9.0" fill="#29368b"/>
<rect x="318.0" y="318.0" width="9.0" height="8.0" fill="#17327a"/>
<rect x="326.0" y="317.0" width="8.0" height="9.0" fill="#0f2d5f"/>
<rect x="333.0" y="317.0" width="7.0" height="9.0" fill="#062844"/>
<rect x="304.0" y="326.0" width="8.0" height="9.0" fill="#3a3a9c"/>
<rect x="311.0" y="326.0" width="9.0" height="8.0" fill="#29368b"/>
<rect x="319.0" y="325.0" width="8.0" height="9.0" fill="#17327a"/>
<rect x="326.0" y="325.0" width="8.0" height="9.0" fill="#0f2d5f"/>
<rect x="333.0" y="325.0" width="8.0" height="9.0" fill="#062844"/>
<rect x="340.0" y="325.0" width="8.0" height="9.0" fill="#062844"/>
<rect x="304.0" y="334.0" width="9.0" height="8.0" fill="#3a3a9c"/>
<rect x="312.0" y="333.0" width="8.0" height="9.0" fill="#29368b"/>
<rect x="319.0" y="333.0" width="8.0" height="9.0" fill="#17327a"/>
<rect x="326.0" y="333.0" width="8.0" height="9.0" fill="#0f2d5f"/>
<rect x="333.0" y="333.0" width="9.0" height="9.0" fill="#062844"/>
<rect x="341.0" y="333.0" width="7.0" height="9.0" fill="#062844"/>
<rect x="305.0" y="341.0" width="8.0" height="8.0" fill="#29368b"/>
<rect x="312.0" y="341.0" width="8.0" height="8.0" fill="#17327a"/>
<rect x="319.0" y="341.0" width="8.0" height="8.0" fill="#17327a"/>
<rect x="326.0" y="341.0" width="8.0" height="8.0" fill="#0f2d5f"/>
<rect x="333.0" y="341.0" width="9.0" height="8.0" fill="#062844"/>
<rect x="341.0" y="341.0" width="7.0" height="7.0" fill="#062844"/>
</g>
<path d="M421.5 239.0 C421.1 239.8 420.3 242.0 419.4 243.8 C418.5 245.5 417.4 248.1 416.2 249.4 C415.1 250.7 414.0 251.3 412.5 251.5 C411.0 251.7 409.0 251.3 407.5 250.6 C406.0 249.9 404.8 248.8 403.8 247.5 C402.7 246.2 401.6 244.2 401.2 242.5 C400.9 240.8 401.7 239.6 401.9 237.5 C402.1 235.4 402.5 231.6 402.5 230.0 C402.5 228.4 401.6 229.0 401.9 228.0 C402.2 227.0 403.5 225.2 404.4 223.8 C405.3 222.3 406.5 220.5 407.5 219.4 C408.5 218.3 409.9 218.2 410.6 216.9 C411.3 215.7 411.9 213.3 411.9 211.9 C411.9 210.5 411.2 209.5 410.6 208.8 C410.0 208.0 408.8 207.4 408.0 207.5 C407.2 207.6 406.3 208.2 405.6 209.4 C404.9 210.6 404.5 213.5 403.8 214.4 C403.0 215.3 401.9 215.4 401.2 215.0 C400.6 214.6 399.9 213.2 400.0 212.0 C400.1 210.8 401.5 208.9 402.0 207.5 C402.5 206.1 403.1 205.4 403.0 203.8 C402.9 202.1 402.2 199.8 401.2 197.5 C400.3 195.2 398.7 192.1 397.5 190.0 C396.3 187.9 394.8 186.4 394.2 185.0 C393.6 183.6 393.8 183.1 394.2 181.5 C394.6 179.9 395.8 178.6 396.4 175.5 C397.0 172.4 397.5 167.2 398.0 163.0 C398.5 158.8 399.1 153.7 399.5 150.0 C399.9 146.3 399.8 143.9 400.4 141.0 C401.0 138.1 402.3 135.4 403.1 132.5 C403.9 129.6 404.4 126.0 405.0 123.8 C405.6 121.5 406.1 120.5 406.9 118.8 C407.7 117.0 409.6 114.7 410.0 113.1 C410.4 111.5 409.9 110.2 409.4 109.4 C408.9 108.6 407.8 108.2 406.9 108.3 C406.0 108.4 405.5 109.4 403.8 110.0 C402.0 110.6 398.8 111.1 396.2 111.9 C393.8 112.7 391.0 113.7 388.8 115.0 C386.5 116.3 384.4 117.9 382.5 120.0 C380.6 122.1 379.4 124.8 377.5 127.5 C375.6 130.2 373.1 133.0 371.2 136.2 C369.4 139.5 368.0 143.1 366.2 147.0 C364.5 150.9 362.0 155.4 360.6 159.4 C359.2 163.4 359.0 167.6 358.1 171.2 C357.2 174.9 355.9 178.1 355.0 181.2 C354.1 184.4 353.3 187.7 352.5 190.0 C351.7 192.3 351.0 192.1 350.0 195.0 C349.0 197.9 347.4 204.0 346.2 207.5 C345.1 211.0 344.4 213.8 343.1 216.2 C341.9 218.8 340.1 220.4 338.8 222.5 C337.4 224.6 336.0 226.1 335.0 229.0 C334.0 231.9 333.6 237.2 333.0 240.0 C332.4 242.8 332.2 244.3 331.5 246.0 C330.8 247.7 329.8 248.5 328.8 250.0 C327.7 251.5 326.5 253.4 325.0 255.0 C323.5 256.6 321.3 257.9 320.0 259.4 C318.7 260.9 317.2 262.2 317.0 263.8 C316.8 265.3 318.1 266.9 318.8 268.8 C319.4 270.6 320.1 272.7 320.6 275.0 C321.1 277.3 321.9 280.0 321.9 282.5 C321.9 285.0 320.9 288.2 320.6 290.0 C320.3 291.8 318.9 292.2 320.0 293.0 C321.1 293.8 324.8 293.3 327.0 294.5 C329.2 295.7 331.3 298.2 333.0 300.0 C334.7 301.8 335.8 303.2 337.0 305.0 C338.2 306.8 339.2 308.8 340.0 311.0 C340.8 313.2 341.3 316.2 342.0 318.0 C342.7 319.8 343.2 320.3 344.0 322.0 C344.8 323.7 346.3 325.3 347.0 328.0 C347.7 330.7 347.8 334.7 348.0 338.0 C348.2 341.3 348.3 345.0 348.5 348.0 C348.7 351.0 348.9 354.7 349.0 356.0" fill="none" stroke="#808080" stroke-width="1.35" stroke-linejoin="round"/>
<polygon points="103.6,67.9 103.8,68.3 102.8,68.1 105.3,72.0 105.3,67.3 104.6,68.0 104.5,67.6" fill="#659bc8"/>
<polygon points="103.7,75.9 103.9,76.3 102.9,76.1 105.4,80.0 105.4,75.3 104.7,76.0 104.6,75.6" fill="#659bc8"/>
<polygon points="104.2,83.7 104.4,84.1 103.4,83.9 105.9,87.8 105.9,83.1 105.2,83.8 105.1,83.4" fill="#659bc8"/>
<polygon points="111.2,83.3 111.4,83.7 110.4,83.5 112.9,87.4 112.9,82.7 112.2,83.4 112.1,83.0" fill="#659bc8"/>
<polygon points="104.2,91.7 104.4,92.1 103.4,91.9 105.9,95.8 105.9,91.1 105.2,91.8 105.1,91.4" fill="#659bc8"/>
<polygon points="180.0,167.2 179.0,169.4 177.9,168.1 176.9,176.4 182.3,170.0 180.5,170.1 181.4,167.9" fill="#e0f3f8"/>
<polygon points="186.9,167.6 185.8,169.5 184.8,168.1 183.1,176.2 189.0,170.4 187.3,170.3 188.3,168.4" fill="#e0f3f8"/>
<polygon points="172.7,175.9 171.8,177.7 170.7,176.3 169.2,184.5 175.0,178.4 173.2,178.4 174.1,176.6" fill="#e0f3f8"/>
<polygon points="179.8,175.9 178.2,179.5 177.0,178.1 176.0,186.4 181.4,180.1 179.6,180.1 181.2,176.6" fill="#fffebe"/>
<polygon points="186.9,175.9 186.1,177.6 185.0,176.2 183.9,184.5 189.4,178.2 187.6,178.3 188.3,176.6" fill="#e0f3f8"/>
<polygon points="165.9,183.7 165.6,184.3 164.8,183.1 163.4,189.8 168.2,185.0 166.8,185.0 167.1,184.4" fill="#90c3dd"/>
<polygon points="188.2,183.4 187.9,184.1 186.7,183.0 186.8,191.0 191.1,184.3 189.4,184.6 189.6,183.8" fill="#9fd0e4"/>
<polygon points="145.2,215.5 144.6,215.3 145.6,214.3 138.6,214.0 144.3,218.1 144.1,216.6 144.8,216.8" fill="#9bcce2"/>
<polygon points="151.9,215.1 151.2,215.3 151.5,213.6 145.0,217.7 152.7,217.9 151.6,216.7 152.3,216.5" fill="#9fd0e4"/>
<polygon points="145.2,222.6 144.5,222.6 145.2,221.1 137.5,223.4 145.2,225.7 144.5,224.2 145.2,224.2" fill="#b4deec"/>
<polygon points="150.9,222.5 150.1,222.8 150.2,221.0 143.9,226.6 152.2,225.4 150.8,224.3 151.5,223.9" fill="#e6f5ed"/>
<polygon points="159.8,222.8 157.7,224.0 157.7,222.2 151.8,228.1 160.0,226.4 158.5,225.4 160.6,224.2" fill="#eaf7e6"/>
<polygon points="166.9,222.5 165.7,223.2 165.5,221.4 160.1,227.8 168.1,225.5 166.6,224.6 167.8,223.8" fill="#e0f3f8"/>
<polygon points="412.7,147.6 416.8,167.4 415.1,167.0 419.1,174.3 419.8,166.0 418.4,167.1 414.3,147.2" fill="#af0926"/>
<polygon points="319.6,227.6 321.1,229.7 319.4,230.0 326.0,235.0 323.2,227.1 322.4,228.7 320.8,226.6" fill="#e6f5ed"/>
<polygon points="326.7,227.4 327.8,229.5 326.0,229.6 332.0,235.4 330.2,227.3 329.2,228.8 328.1,226.7" fill="#e6f5ed"/>
<polygon points="319.7,234.9 319.7,235.9 318.1,235.1 320.9,243.0 322.9,234.9 321.3,235.8 321.3,234.9" fill="#e6f5ed"/>
<polygon points="312.7,235.4 312.8,236.0 311.5,235.7 314.6,241.1 315.0,234.9 314.0,235.7 313.9,235.1" fill="#7fb6d6"/>
<polygon points="296.9,241.6 297.0,241.9 296.3,241.8 297.9,244.4 298.1,241.3 297.5,241.8 297.5,241.5" fill="#659bc8"/>
<polygon points="313.0,242.4 309.2,245.4 308.8,243.7 304.0,250.5 311.8,247.4 310.1,246.7 314.0,243.6" fill="#fff0a8"/>
<polygon points="319.8,242.0 316.5,246.7 315.7,245.1 313.0,253.0 319.6,247.9 317.8,247.6 321.2,243.0" fill="#fee090"/>
<polygon points="304.7,251.2 297.5,253.8 297.7,252.0 291.0,257.0 299.3,256.6 298.0,255.3 305.3,252.8" fill="#fdad60"/>
<polygon points="312.7,250.2 298.6,255.0 298.8,253.2 292.0,258.0 300.3,257.7 299.1,256.5 313.3,251.8" fill="#f67f4b"/>
<polygon points="298.9,250.7 292.5,251.7 293.1,250.0 285.5,253.5 293.8,254.7 292.7,253.2 299.1,252.3" fill="#fff8b5"/>
<polygon points="289.2,251.0 288.6,250.8 289.7,249.7 282.5,249.3 288.3,253.6 288.1,252.1 288.7,252.3" fill="#cfebf3"/>
<polygon points="289.9,259.2 282.0,260.5 282.5,258.8 275.0,262.5 283.3,263.6 282.2,262.1 290.1,260.8" fill="#fdb769"/>
<polygon points="306.3,258.2 285.8,263.1 286.2,261.3 279.0,265.5 287.3,266.0 286.2,264.6 306.7,259.8" fill="#e54e35"/>
<polygon points="298.7,258.8 291.4,261.6 291.6,259.8 285.0,265.0 293.3,264.3 292.0,263.1 299.3,260.2" fill="#e0422f"/>
<polygon points="277.2,257.9 275.7,257.5 276.9,256.1 268.5,256.4 275.6,260.8 275.3,259.0 276.8,259.4" fill="#e0f3f8"/>
<polygon points="284.9,258.4 280.6,258.9 281.2,257.2 273.5,260.5 281.7,262.0 280.7,260.5 285.1,260.0" fill="#fff8b5"/>
<polygon points="284.8,267.2 276.9,268.8 277.4,267.1 270.0,271.0 278.3,271.8 277.2,270.4 285.2,268.8" fill="#fee090"/>
<polygon points="276.9,266.1 274.5,266.5 275.0,264.8 267.5,268.6 275.8,269.6 274.7,268.1 277.1,267.7" fill="#e6f5ed"/>
<polygon points="306.8,266.2 300.6,268.1 300.9,266.4 294.0,271.0 302.4,270.9 301.1,269.6 307.2,267.8" fill="#fff0a8"/>
<polygon points="291.7,268.3 288.4,269.6 288.5,267.8 282.0,273.0 290.3,272.3 289.0,271.1 292.3,269.7" fill="#fdad60"/>
<polygon points="284.8,274.1 282.9,275.9 282.4,274.1 278.1,281.3 285.6,277.7 284.0,277.0 285.9,275.2" fill="#d6eef5"/>
<polygon points="360.4,86.0 361.0,86.0 360.3,87.2 366.7,86.2 360.8,83.5 361.2,84.8 360.6,84.7" fill="#83b9d8"/>
<polygon points="367.8,85.7 368.4,85.6 368.2,86.9 373.5,83.4 367.1,83.4 368.0,84.4 367.4,84.6" fill="#6ba2cb"/>
<polygon points="374.8,84.6 375.1,84.4 375.3,85.3 377.9,81.7 373.7,83.3 374.6,83.7 374.2,84.0" fill="#90c3dd"/>
<polygon points="353.3,94.2 354.3,94.2 353.3,95.8 361.5,94.0 353.7,91.0 354.4,92.6 353.5,92.6" fill="#9fd0e4"/>
<polygon points="360.8,93.9 361.8,94.0 360.8,95.5 369.0,94.1 361.3,90.8 361.9,92.5 361.0,92.3" fill="#aad8e9"/>
<polygon points="368.4,93.9 369.1,93.9 368.3,95.4 375.7,93.6 368.5,91.0 369.2,92.5 368.4,92.4" fill="#9fd0e4"/>
<polygon points="375.2,93.2 375.7,93.1 375.3,94.1 379.9,91.9 374.9,91.2 375.5,92.1 375.0,92.2" fill="#5c90c2"/>
<polygon points="381.5,89.9 381.8,90.2 380.8,90.4 384.5,93.2 383.0,88.8 382.5,89.7 382.3,89.3" fill="#5385bd"/>
<polygon points="353.3,102.0 354.3,102.0 353.3,103.6 361.5,101.8 353.7,98.8 354.4,100.4 353.5,100.4" fill="#9fd0e4"/>
<polygon points="361.2,101.7 362.0,101.8 361.0,103.3 369.0,101.6 361.5,98.6 362.1,100.2 361.3,100.2" fill="#aad8e9"/>
<polygon points="368.3,101.7 369.1,101.8 368.2,103.3 376.1,101.5 368.6,98.7 369.2,100.3 368.5,100.2" fill="#9fd0e4"/>
<polygon points="375.3,101.4 375.9,101.7 374.8,102.7 381.7,103.2 376.2,99.0 376.4,100.4 375.8,100.2" fill="#9bcce2"/>
<polygon points="382.4,100.4 382.8,100.7 381.9,101.1 386.1,102.7 383.5,99.1 383.3,100.0 383.0,99.8" fill="#5385bd"/>
<polygon points="388.9,100.7 389.1,100.8 388.6,101.1 391.2,101.7 389.4,99.8 389.3,100.4 389.1,100.3" fill="#4574b3"/>
<polygon points="398.2,99.9 397.5,99.9 398.2,98.5 391.3,100.8 398.3,102.7 397.6,101.3 398.3,101.3" fill="#9bcce2"/>
<polygon points="353.8,108.9 354.4,109.0 353.7,110.1 359.9,108.9 354.1,106.6 354.6,107.8 354.0,107.8" fill="#7fb6d6"/>
<polygon points="361.4,108.9 362.0,108.9 361.3,110.0 366.9,109.0 361.7,106.7 362.1,107.9 361.6,107.8" fill="#7fb6d6"/>
<polygon points="368.8,108.8 369.4,108.8 368.7,109.9 374.3,108.9 369.1,106.6 369.5,107.8 369.0,107.7" fill="#8abeda"/>
<polygon points="375.6,108.4 376.2,108.6 375.2,109.4 381.2,109.8 376.4,106.2 376.6,107.5 376.0,107.3" fill="#9fd0e4"/>
<polygon points="360.7,116.9 361.1,117.0 360.5,117.7 364.9,117.5 361.1,115.3 361.3,116.2 360.9,116.1" fill="#4d7fb9"/>
<polygon points="368.2,116.9 368.6,117.0 368.0,117.7 372.4,117.5 368.6,115.3 368.8,116.2 368.4,116.1" fill="#578abf"/>
<polygon points="375.6,116.5 376.1,116.7 375.2,117.4 380.7,118.2 376.5,114.5 376.5,115.7 376.1,115.5" fill="#9bcce2"/>
<polygon points="360.5,124.4 360.8,124.4 360.4,124.9 363.0,124.6 360.7,123.4 360.9,124.0 360.6,123.9" fill="#35429b"/>
<polygon points="368.0,124.4 368.2,124.4 367.9,124.9 370.4,124.7 368.2,123.4 368.3,124.0 368.1,123.9" fill="#35429b"/>
<polygon points="378.3,102.1 378.7,102.4 377.7,102.8 382.4,104.6 379.5,100.6 379.3,101.6 378.9,101.3" fill="#aad8e9"/>
<polygon points="383.5,107.9 383.9,108.2 383.0,108.7 387.7,110.3 384.6,106.3 384.5,107.4 384.1,107.1" fill="#b4deec"/>
<polygon points="368.3,78.0 368.6,77.8 368.7,78.6 371.0,75.3 367.3,76.8 368.1,77.2 367.8,77.4" fill="#5c90c2"/>
<polygon points="373.1,83.2 372.6,83.5 372.6,82.2 368.2,86.6 374.3,85.3 373.2,84.6 373.7,84.3" fill="#90c3dd"/>
<polygon points="411.0,68.5 411.0,69.1 409.7,68.5 411.6,74.9 413.5,68.5 412.2,69.1 412.2,68.5" fill="#74add1"/>
<polygon points="376.4,70.3 376.5,68.2 378.0,69.1 376.0,61.0 373.2,68.9 374.9,68.2 374.8,70.2" fill="#d6eef5"/>
<polygon points="376.3,80.0 376.3,78.1 377.9,78.9 375.6,70.9 373.1,78.9 374.7,78.1 374.7,80.0" fill="#d6eef5"/>
<polygon points="405.3,68.6 405.3,66.5 406.9,67.2 404.5,59.2 402.1,67.2 403.7,66.5 403.7,68.6" fill="#d6eef5"/>
<polygon points="384.0,84.7 383.3,82.3 385.1,82.6 380.5,75.6 380.5,84.0 381.8,82.8 382.5,85.1" fill="#e6f5ed"/>
<polygon points="390.4,91.9 388.8,90.6 390.4,89.9 382.7,86.7 387.4,93.6 387.8,91.9 389.4,93.2" fill="#e0f3f8"/>
<polygon points="412.1,61.9 417.4,63.7 416.2,64.9 424.5,65.3 417.7,60.4 418.0,62.2 412.7,60.3" fill="#fff0a8"/>
<polygon points="405.7,61.0 412.3,56.3 412.5,58.1 417.6,51.4 409.7,54.2 411.3,55.0 404.8,59.8" fill="#fdb769"/>
<polygon points="416.4,53.9 422.8,55.0 421.7,56.5 430.0,55.5 422.5,51.7 423.1,53.5 416.6,52.3" fill="#fa9b58"/>
<polygon points="411.7,76.1 406.6,77.9 406.8,76.1 400.0,81.0 408.3,80.7 407.1,79.4 412.3,77.7" fill="#fdc778"/>
<polygon points="412.1,99.0 407.6,98.2 408.7,96.8 400.4,97.9 407.9,101.5 407.4,99.8 411.9,100.5" fill="#fee090"/>
<polygon points="382.8,67.5 383.4,58.2 384.9,59.1 383.0,51.0 380.1,58.8 381.8,58.1 381.2,67.5" fill="#fdc778"/>
<polygon points="393.6,70.4 398.0,73.3 396.5,74.2 404.5,76.5 399.1,70.2 398.9,71.9 394.4,69.1" fill="#fdad60"/>
<polygon points="389.5,69.5 387.1,61.7 388.9,62.0 384.2,55.1 384.3,63.5 385.6,62.2 388.0,70.0" fill="#dc3b2c"/>
<polygon points="397.7,76.1 390.4,64.8 392.1,64.6 385.8,59.2 388.1,67.3 389.0,65.7 396.3,76.9" fill="#dc3b2c"/>
<polygon points="392.7,71.6 389.9,66.1 391.7,66.1 386.0,60.0 387.4,68.2 388.5,66.8 391.3,72.4" fill="#dc3b2c"/>
<polygon points="391.8,61.9 390.7,49.1 392.4,49.8 389.3,42.0 387.6,50.2 389.1,49.2 390.2,62.1" fill="#af0926"/>
<polygon points="391.8,63.1 394.2,49.2 395.6,50.3 394.6,42.0 390.9,49.5 392.6,49.0 390.2,62.9" fill="#af0926"/>
<polygon points="391.0,70.0 391.3,65.2 392.9,66.1 391.0,58.0 388.1,65.8 389.8,65.1 389.5,70.0" fill="#b30d26"/>
<polygon points="398.8,63.0 398.0,49.1 399.7,49.9 396.8,42.0 394.9,50.1 396.4,49.2 397.2,63.0" fill="#d62f27"/>
<polygon points="398.8,64.2 403.0,48.2 404.3,49.3 404.0,41.0 399.7,48.1 401.4,47.8 397.2,63.8" fill="#af0926"/>
<polygon points="398.3,72.0 398.5,67.2 400.1,68.1 398.0,60.0 395.3,67.9 396.9,67.2 396.7,72.0" fill="#b30d26"/>
<polygon points="405.5,53.6 409.2,50.4 409.6,52.1 414.0,45.0 406.4,48.5 408.1,49.2 404.5,52.4" fill="#b91326"/>
<polygon points="399.6,58.6 404.5,53.7 405.0,55.4 409.0,48.0 401.6,52.0 403.3,52.5 398.4,57.4" fill="#bd1726"/>
<polygon points="404.9,83.3 388.4,75.2 389.8,74.1 381.6,72.8 387.7,78.4 387.7,76.6 404.1,84.7" fill="#bd1726"/>
<polygon points="400.7,82.3 398.2,83.2 398.4,81.4 391.8,86.5 400.1,85.9 398.8,84.7 401.3,83.7" fill="#bd1726"/>
<polygon points="411.9,83.6 399.1,85.3 399.7,83.6 392.1,87.0 400.3,88.3 399.3,86.9 412.1,85.2" fill="#d62f27"/>
<polygon points="412.0,91.5 399.0,90.7 399.9,89.2 391.8,91.1 399.6,93.9 398.9,92.3 412.0,93.0" fill="#e54e35"/>
<polygon points="399.4,90.0 391.1,88.3 392.2,86.9 383.9,87.6 391.3,91.6 390.8,89.8 399.1,91.5" fill="#eb5a3a"/>
<polygon points="385.6,69.9 386.8,72.4 385.0,72.4 390.7,78.4 389.3,70.2 388.2,71.6 387.0,69.2" fill="#bd1726"/>
<polygon points="392.3,70.4 393.4,72.5 391.6,72.6 397.5,78.5 395.9,70.3 394.8,71.8 393.7,69.6" fill="#bd1726"/>
<polygon points="388.5,74.6 393.7,78.4 392.1,79.2 400.0,82.0 394.9,75.4 394.6,77.1 389.5,73.4" fill="#bd1726"/>
<polygon points="318.1,330.4 298.6,310.6 300.3,310.0 293.0,306.0 296.9,313.4 297.5,311.7 316.9,331.6" fill="#b30d26"/>
<polygon points="316.6,327.4 296.7,308.4 298.4,307.8 291.0,304.0 295.1,311.3 295.6,309.6 315.4,328.6" fill="#b30d26"/>
<polygon points="318.6,333.4 301.7,316.5 303.4,316.0 296.0,312.0 300.0,319.4 300.5,317.7 317.4,334.6" fill="#b30d26"/>
<polygon points="314.5,332.4 296.2,318.7 297.8,317.9 290.0,315.0 295.0,321.7 295.3,320.0 313.5,333.6" fill="#b30d26"/>
<polygon points="328.1,315.5 320.9,326.1 320.0,324.5 317.5,332.5 324.0,327.2 322.2,327.0 329.4,316.5" fill="#b30d26"/>
<polygon points="329.7,326.8 315.4,332.6 315.5,330.8 309.0,336.0 317.3,335.2 316.0,334.0 330.3,328.2" fill="#bd1726"/>
<polygon points="320.8,333.2 300.9,337.7 301.3,335.9 294.0,340.0 302.3,340.6 301.2,339.2 321.2,334.8" fill="#b30d26"/>
<polygon points="310.7,325.6 303.6,314.6 305.4,314.4 299.0,309.0 301.3,317.0 302.2,315.5 309.3,326.4" fill="#b30d26"/>
<polygon points="318.4,321.3 302.6,312.0 304.1,311.0 296.0,309.0 301.7,315.1 301.8,313.4 317.6,322.7" fill="#b30d26"/>
<polygon points="322.4,326.3 304.8,317.5 306.2,316.4 298.0,315.0 304.1,320.7 304.1,318.9 321.6,327.7" fill="#b30d26"/>
<polygon points="324.3,330.3 307.0,323.8 308.3,322.6 300.0,322.0 306.6,327.1 306.5,325.3 323.7,331.7" fill="#b30d26"/>
<polygon points="318.4,337.3 298.6,325.1 300.1,324.1 292.0,322.0 297.6,328.2 297.7,326.5 317.6,338.7" fill="#b30d26"/>
<polygon points="316.3,341.3 296.9,332.3 298.3,331.2 290.0,330.0 296.3,335.5 296.2,333.7 315.7,342.7" fill="#bd1726"/>
<polygon points="312.4,335.3 302.5,329.1 304.1,328.2 296.0,326.0 301.5,332.3 301.7,330.5 311.6,336.7" fill="#b30d26"/>
<polygon points="320.3,317.3 309.9,312.3 311.3,311.2 303.0,310.0 309.2,315.6 309.2,313.8 319.7,318.7" fill="#b30d26"/>
<polygon points="305.4,336.7 316.2,330.3 316.3,332.1 322.0,326.0 313.9,328.0 315.4,329.0 304.6,335.3" fill="#b30d26"/>
<polygon points="300.4,343.7 310.3,337.5 310.5,339.3 316.0,333.0 307.9,335.2 309.5,336.1 299.6,342.3" fill="#bd1726"/>
<polygon points="296.2,345.8 323.1,340.2 322.6,342.0 330.0,338.0 321.7,337.3 322.8,338.7 295.8,344.2" fill="#b30d26"/>
<polygon points="308.7,330.5 314.5,322.3 315.3,323.9 318.0,316.0 311.4,321.1 313.2,321.4 307.3,329.5" fill="#b30d26"/>
<polygon points="301.6,315.4 273.9,288.6 275.6,288.0 268.2,284.2 272.3,291.5 272.8,289.8 300.4,316.6" fill="#b30d26"/>
<polygon points="305.6,315.9 286.7,297.0 288.4,296.5 281.0,292.5 285.0,299.9 285.5,298.2 304.4,317.1" fill="#b30d26"/>
<polygon points="302.6,320.4 284.6,302.1 286.3,301.5 279.0,297.5 282.9,304.9 283.5,303.2 301.4,321.6" fill="#b30d26"/>
<polygon points="315.4,312.3 298.3,303.6 299.7,302.5 291.5,301.0 297.5,306.8 297.5,305.0 314.6,313.7" fill="#b30d26"/>
<polygon points="312.4,318.3 292.6,306.5 294.1,305.5 286.0,303.5 291.6,309.7 291.8,307.9 311.6,319.7" fill="#b30d26"/>
<polygon points="288.2,317.2 263.2,311.0 264.3,309.6 256.0,310.0 263.2,314.3 262.8,312.5 287.8,318.8" fill="#b30d26"/>
<polygon points="285.9,313.7 261.6,316.0 262.2,314.4 254.5,317.5 262.7,319.1 261.7,317.6 286.1,315.3" fill="#b30d26"/>
<polygon points="296.2,321.2 269.2,314.9 270.3,313.5 262.0,314.0 269.2,318.2 268.8,316.4 295.8,322.8" fill="#bd1726"/>
<polygon points="284.7,321.2 263.0,328.9 263.3,327.1 256.5,332.0 264.8,331.6 263.6,330.4 285.3,322.8" fill="#b30d26"/>
<polygon points="293.3,328.7 282.5,323.9 283.9,322.7 275.6,321.7 281.9,327.1 281.9,325.3 292.7,330.1" fill="#f46d43"/>
<polygon points="270.3,323.6 260.6,342.2 259.6,340.8 258.0,349.0 263.8,343.0 262.0,343.0 271.7,324.4" fill="#b30d26"/>
<polygon points="278.5,329.4 262.3,344.1 261.8,342.3 257.5,349.5 265.0,345.9 263.4,345.3 279.5,330.6" fill="#b30d26"/>
<polygon points="285.4,330.0 277.2,340.8 276.4,339.2 273.5,347.0 280.2,342.1 278.5,341.7 286.6,331.0" fill="#d62f27"/>
<polygon points="282.2,325.7 271.7,355.0 270.5,353.7 270.0,362.0 275.0,355.3 273.2,355.5 283.8,326.3" fill="#b30d26"/>
<polygon points="287.2,327.8 278.5,354.9 277.2,353.6 277.0,362.0 281.7,355.1 280.0,355.4 288.8,328.2" fill="#b30d26"/>
<polygon points="291.2,329.8 284.2,354.9 282.9,353.6 283.0,362.0 287.5,354.9 285.7,355.3 292.8,330.2" fill="#bd1726"/>
<polygon points="285.7,338.8 288.6,347.1 286.8,346.8 291.7,353.6 291.4,345.3 290.1,346.5 287.3,338.2" fill="#f88c51"/>
<polygon points="293.7,349.2 300.0,351.7 298.7,352.9 307.0,353.5 300.4,348.4 300.6,350.2 294.3,347.8" fill="#ee613e"/>
<polygon points="328.6,344.2 313.2,347.2 313.6,345.5 306.2,349.4 314.6,350.2 313.5,348.8 328.9,345.8" fill="#f46d43"/>
<polygon points="337.1,343.6 327.8,341.8 328.9,340.4 320.6,341.2 328.0,345.1 327.5,343.4 336.7,345.2" fill="#fdad60"/>
<polygon points="336.8,336.1 327.0,337.6 327.6,335.9 320.0,339.4 328.3,340.6 327.2,339.1 337.0,337.7" fill="#dc3b2c"/>
<polygon points="336.5,328.7 325.5,334.1 325.5,332.3 319.4,338.0 327.6,336.6 326.2,335.5 337.3,330.1" fill="#d62f27"/>
<polygon points="328.0,312.2 321.8,328.6 320.6,327.3 320.0,335.6 325.1,329.0 323.3,329.2 329.5,312.8" fill="#b30d26"/>
<polygon points="328.6,306.0 328.6,323.8 327.0,323.0 329.4,331.0 331.8,323.0 330.2,323.8 330.2,306.0" fill="#b30d26"/>
<polygon points="321.2,306.0 321.1,312.3 319.5,311.5 321.8,319.5 324.3,311.5 322.7,312.3 322.8,306.0" fill="#feea9f"/>
<polygon points="321.7,313.3 313.8,316.5 314.0,314.7 307.5,320.0 315.8,319.2 314.5,318.0 322.3,314.7" fill="#da362a"/>
<polygon points="294.2,338.4 296.1,336.6 296.6,338.4 300.9,331.2 293.4,334.8 295.0,335.5 293.1,337.3" fill="#fff0a8"/>
<polygon points="310.6,341.8 311.2,339.9 312.5,341.1 312.8,332.8 307.9,339.6 309.7,339.3 309.0,341.2" fill="#fff0a8"/>
<polygon points="306.5,344.6 308.3,344.7 307.4,346.2 315.5,344.2 307.6,341.4 308.3,343.1 306.5,343.0" fill="#e6f5ed"/>
<polygon points="314.8,342.3 313.1,342.7 313.5,341.0 306.3,345.3 314.7,345.6 313.5,344.3 315.2,343.8" fill="#e6f5ed"/>
<g stroke="#b0b0b0" stroke-width="1.3" fill="none" opacity="0.88">
<line x1="101.59" y1="49.50" x2="110.54" y2="355.50"/>
<line x1="147.49" y1="49.50" x2="155.97" y2="355.50"/>
<line x1="193.39" y1="49.50" x2="201.39" y2="355.50"/>
<line x1="239.29" y1="49.50" x2="246.81" y2="355.50"/>
<line x1="285.19" y1="49.50" x2="292.23" y2="355.50"/>
<line x1="331.09" y1="49.50" x2="337.66" y2="355.50"/>
<line x1="376.99" y1="49.50" x2="383.08" y2="355.50"/>
<line x1="422.89" y1="49.50" x2="428.50" y2="355.50"/>
<line x1="100.60" y1="77.51" x2="421.40" y2="70.09"/>
<line x1="100.60" y1="116.78" x2="421.40" y2="109.32"/>
<line x1="100.60" y1="156.05" x2="421.40" y2="148.55"/>
<line x1="100.60" y1="195.33" x2="421.40" y2="187.77"/>
<line x1="100.60" y1="234.60" x2="421.40" y2="227.00"/>
<line x1="100.60" y1="273.87" x2="421.40" y2="266.23"/>
<line x1="100.60" y1="313.14" x2="421.40" y2="305.46"/>
<line x1="100.60" y1="352.41" x2="421.40" y2="344.69"/>
</g>
</g>
<rect x="100.60" y="49.50" width="320.80" height="306.00" fill="none" stroke="#000" stroke-width="1.1"/>
<text class="t10" x="101.59" y="38.6" text-anchor="middle">112.5°E</text>
<text class="t10" x="110.84" y="372.6" text-anchor="middle">112.5°E</text>
<text class="t10" x="193.39" y="38.6" text-anchor="middle">113°E</text>
<text class="t10" x="201.69" y="372.6" text-anchor="middle">113°E</text>
<text class="t10" x="285.19" y="38.6" text-anchor="middle">113.5°E</text>
<text class="t10" x="292.53" y="372.6" text-anchor="middle">113.5°E</text>
<text class="t10" x="376.99" y="38.6" text-anchor="middle">114°E</text>
<text class="t10" x="383.38" y="372.6" text-anchor="middle">114°E</text>
<text class="t10" x="92.6" y="81.91" text-anchor="end">21.6°S</text>
<text class="t10" x="92.6" y="121.18" text-anchor="end">21.8°S</text>
<text class="t10" x="92.6" y="160.45" text-anchor="end">22°S</text>
<text class="t10" x="92.6" y="199.73" text-anchor="end">22.2°S</text>
<text class="t10" x="92.6" y="239.00" text-anchor="end">22.4°S</text>
<text class="t10" x="92.6" y="278.27" text-anchor="end">22.6°S</text>
<text class="t10" x="92.6" y="317.54" text-anchor="end">22.8°S</text>
<text class="t10" x="92.6" y="356.81" text-anchor="end">23°S</text>
<text class="t12" x="260.7" y="19.9" text-anchor="middle">2026-04-08T04:00:00Z</text>
<text class="t12" x="277.6" y="-1.1">_</text>
<text class="t12" x="285.5" y="-1.1">p</text>
<text class="t12" x="309.6" y="-1.1">_</text>
<text class="t12" x="331.6" y="-1.1">_</text>
<g shape-rendering="crispEdges">
<rect x="441.5" y="278.00" width="8.1" height="1.60" fill="#313695"/>
<rect x="441.5" y="277.01" width="8.1" height="1.60" fill="#333b97"/>
<rect x="441.5" y="276.01" width="8.1" height="1.60" fill="#34409a"/>
<rect x="441.5" y="275.01" width="8.1" height="1.60" fill="#35429b"/>
<rect x="441.5" y="274.01" width="8.1" height="1.60" fill="#36479e"/>
<rect x="441.5" y="273.02" width="8.1" height="1.60" fill="#384ca0"/>
<rect x="441.5" y="272.02" width="8.1" height="1.60" fill="#394fa1"/>
<rect x="441.5" y="271.02" width="8.1" height="1.60" fill="#3a54a4"/>
<rect x="441.5" y="270.02" width="8.1" height="1.60" fill="#3c59a6"/>
<rect x="441.5" y="269.03" width="8.1" height="1.60" fill="#3d5ba7"/>
<rect x="441.5" y="268.03" width="8.1" height="1.60" fill="#3e60aa"/>
<rect x="441.5" y="267.03" width="8.1" height="1.60" fill="#4065ac"/>
<rect x="441.5" y="266.03" width="8.1" height="1.60" fill="#4167ad"/>
<rect x="441.5" y="265.04" width="8.1" height="1.60" fill="#426cb0"/>
<rect x="441.5" y="264.04" width="8.1" height="1.60" fill="#4471b2"/>
<rect x="441.5" y="263.04" width="8.1" height="1.60" fill="#4574b3"/>
<rect x="441.5" y="262.04" width="8.1" height="1.60" fill="#4878b6"/>
<rect x="441.5" y="261.05" width="8.1" height="1.60" fill="#4b7db8"/>
<rect x="441.5" y="260.05" width="8.1" height="1.60" fill="#4d7fb9"/>
<rect x="441.5" y="259.05" width="8.1" height="1.60" fill="#5183bb"/>
<rect x="441.5" y="258.05" width="8.1" height="1.60" fill="#5588be"/>
<rect x="441.5" y="257.06" width="8.1" height="1.60" fill="#578abf"/>
<rect x="441.5" y="256.06" width="8.1" height="1.60" fill="#5a8ec1"/>
<rect x="441.5" y="255.06" width="8.1" height="1.60" fill="#5e93c3"/>
<rect x="441.5" y="254.06" width="8.1" height="1.60" fill="#6095c4"/>
<rect x="441.5" y="253.07" width="8.1" height="1.60" fill="#6399c7"/>
<rect x="441.5" y="252.07" width="8.1" height="1.60" fill="#679ec9"/>
<rect x="441.5" y="251.07" width="8.1" height="1.60" fill="#69a0ca"/>
<rect x="441.5" y="250.08" width="8.1" height="1.60" fill="#6da4cc"/>
<rect x="441.5" y="249.08" width="8.1" height="1.60" fill="#70a9cf"/>
<rect x="441.5" y="248.08" width="8.1" height="1.60" fill="#72abd0"/>
<rect x="441.5" y="247.08" width="8.1" height="1.60" fill="#76afd2"/>
<rect x="441.5" y="246.09" width="8.1" height="1.60" fill="#7ab2d4"/>
<rect x="441.5" y="245.09" width="8.1" height="1.60" fill="#7db4d5"/>
<rect x="441.5" y="244.09" width="8.1" height="1.60" fill="#81b7d7"/>
<rect x="441.5" y="243.09" width="8.1" height="1.60" fill="#85bbd9"/>
<rect x="441.5" y="242.10" width="8.1" height="1.60" fill="#87bdd9"/>
<rect x="441.5" y="241.10" width="8.1" height="1.60" fill="#8cc0db"/>
<rect x="441.5" y="240.10" width="8.1" height="1.60" fill="#90c3dd"/>
<rect x="441.5" y="239.10" width="8.1" height="1.60" fill="#92c5de"/>
<rect x="441.5" y="238.11" width="8.1" height="1.60" fill="#97c9e0"/>
<rect x="441.5" y="237.11" width="8.1" height="1.60" fill="#99cae1"/>
<rect x="441.5" y="236.11" width="8.1" height="1.60" fill="#9dcee3"/>
<rect x="441.5" y="235.11" width="8.1" height="1.60" fill="#a1d1e5"/>
<rect x="441.5" y="234.12" width="8.1" height="1.60" fill="#a3d3e6"/>
<rect x="441.5" y="233.12" width="8.1" height="1.60" fill="#a8d6e8"/>
<rect x="441.5" y="232.12" width="8.1" height="1.60" fill="#acdae9"/>
<rect x="441.5" y="231.12" width="8.1" height="1.60" fill="#aedbea"/>
<rect x="441.5" y="230.13" width="8.1" height="1.60" fill="#b2ddeb"/>
<rect x="441.5" y="229.13" width="8.1" height="1.60" fill="#b6dfec"/>
<rect x="441.5" y="228.13" width="8.1" height="1.60" fill="#b9e0ed"/>
<rect x="441.5" y="227.14" width="8.1" height="1.60" fill="#bde2ee"/>
<rect x="441.5" y="226.14" width="8.1" height="1.60" fill="#c1e4ef"/>
<rect x="441.5" y="225.14" width="8.1" height="1.60" fill="#c3e5f0"/>
<rect x="441.5" y="224.14" width="8.1" height="1.60" fill="#c7e7f1"/>
<rect x="441.5" y="223.15" width="8.1" height="1.60" fill="#cbe9f2"/>
<rect x="441.5" y="222.15" width="8.1" height="1.60" fill="#cdeaf3"/>
<rect x="441.5" y="221.15" width="8.1" height="1.60" fill="#d1ecf4"/>
<rect x="441.5" y="220.15" width="8.1" height="1.60" fill="#d6eef5"/>
<rect x="441.5" y="219.16" width="8.1" height="1.60" fill="#d8eff6"/>
<rect x="441.5" y="218.16" width="8.1" height="1.60" fill="#dcf1f7"/>
<rect x="441.5" y="217.16" width="8.1" height="1.60" fill="#e0f3f8"/>
<rect x="441.5" y="216.16" width="8.1" height="1.60" fill="#e1f3f6"/>
<rect x="441.5" y="215.17" width="8.1" height="1.60" fill="#e4f4f1"/>
<rect x="441.5" y="214.17" width="8.1" height="1.60" fill="#e6f5ed"/>
<rect x="441.5" y="213.17" width="8.1" height="1.60" fill="#e7f6eb"/>
<rect x="441.5" y="212.17" width="8.1" height="1.60" fill="#eaf7e6"/>
<rect x="441.5" y="211.18" width="8.1" height="1.60" fill="#ecf8e2"/>
<rect x="441.5" y="210.18" width="8.1" height="1.60" fill="#edf8df"/>
<rect x="441.5" y="209.18" width="8.1" height="1.60" fill="#f0f9db"/>
<rect x="441.5" y="208.18" width="8.1" height="1.60" fill="#f2fad6"/>
<rect x="441.5" y="207.19" width="8.1" height="1.60" fill="#f3fbd4"/>
<rect x="441.5" y="206.19" width="8.1" height="1.60" fill="#f6fbd0"/>
<rect x="441.5" y="205.19" width="8.1" height="1.60" fill="#f8fccb"/>
<rect x="441.5" y="204.19" width="8.1" height="1.60" fill="#fafdc9"/>
<rect x="441.5" y="203.20" width="8.1" height="1.60" fill="#fcfec5"/>
<rect x="441.5" y="202.20" width="8.1" height="1.60" fill="#feffc0"/>
<rect x="441.5" y="201.20" width="8.1" height="1.60" fill="#fffebe"/>
<rect x="441.5" y="200.21" width="8.1" height="1.60" fill="#fffcba"/>
<rect x="441.5" y="199.21" width="8.1" height="1.60" fill="#fffab7"/>
<rect x="441.5" y="198.21" width="8.1" height="1.60" fill="#fff8b5"/>
<rect x="441.5" y="197.21" width="8.1" height="1.60" fill="#fff6b1"/>
<rect x="441.5" y="196.22" width="8.1" height="1.60" fill="#fff3ad"/>
<rect x="441.5" y="195.22" width="8.1" height="1.60" fill="#fff2ac"/>
<rect x="441.5" y="194.22" width="8.1" height="1.60" fill="#fff0a8"/>
<rect x="441.5" y="193.22" width="8.1" height="1.60" fill="#feeda4"/>
<rect x="441.5" y="192.23" width="8.1" height="1.60" fill="#feeca2"/>
<rect x="441.5" y="191.23" width="8.1" height="1.60" fill="#feea9f"/>
<rect x="441.5" y="190.23" width="8.1" height="1.60" fill="#fee79b"/>
<rect x="441.5" y="189.23" width="8.1" height="1.60" fill="#fee699"/>
<rect x="441.5" y="188.24" width="8.1" height="1.60" fill="#fee496"/>
<rect x="441.5" y="187.24" width="8.1" height="1.60" fill="#fee192"/>
<rect x="441.5" y="186.24" width="8.1" height="1.60" fill="#fee090"/>
<rect x="441.5" y="185.24" width="8.1" height="1.60" fill="#fedc8c"/>
<rect x="441.5" y="184.25" width="8.1" height="1.60" fill="#fed889"/>
<rect x="441.5" y="183.25" width="8.1" height="1.60" fill="#fed687"/>
<rect x="441.5" y="182.25" width="8.1" height="1.60" fill="#fed283"/>
<rect x="441.5" y="181.25" width="8.1" height="1.60" fill="#fece7f"/>
<rect x="441.5" y="180.26" width="8.1" height="1.60" fill="#fecc7e"/>
<rect x="441.5" y="179.26" width="8.1" height="1.60" fill="#fec87a"/>
<rect x="441.5" y="178.26" width="8.1" height="1.60" fill="#fdc576"/>
<rect x="441.5" y="177.26" width="8.1" height="1.60" fill="#fdc374"/>
<rect x="441.5" y="176.27" width="8.1" height="1.60" fill="#fdbf71"/>
<rect x="441.5" y="175.27" width="8.1" height="1.60" fill="#fdbb6d"/>
<rect x="441.5" y="174.27" width="8.1" height="1.60" fill="#fdb96b"/>
<rect x="441.5" y="173.28" width="8.1" height="1.60" fill="#fdb567"/>
<rect x="441.5" y="172.28" width="8.1" height="1.60" fill="#fdb164"/>
<rect x="441.5" y="171.28" width="8.1" height="1.60" fill="#fdaf62"/>
<rect x="441.5" y="170.28" width="8.1" height="1.60" fill="#fcaa5f"/>
<rect x="441.5" y="169.29" width="8.1" height="1.60" fill="#fca55d"/>
<rect x="441.5" y="168.29" width="8.1" height="1.60" fill="#fba35c"/>
<rect x="441.5" y="167.29" width="8.1" height="1.60" fill="#fb9d59"/>
<rect x="441.5" y="166.29" width="8.1" height="1.60" fill="#fa9857"/>
<rect x="441.5" y="165.30" width="8.1" height="1.60" fill="#fa9656"/>
<rect x="441.5" y="164.30" width="8.1" height="1.60" fill="#f99153"/>
<rect x="441.5" y="163.30" width="8.1" height="1.60" fill="#f88c51"/>
<rect x="441.5" y="162.30" width="8.1" height="1.60" fill="#f88950"/>
<rect x="441.5" y="161.31" width="8.1" height="1.60" fill="#f7844e"/>
<rect x="441.5" y="160.31" width="8.1" height="1.60" fill="#f7814c"/>
<rect x="441.5" y="159.31" width="8.1" height="1.60" fill="#f67c4a"/>
<rect x="441.5" y="158.31" width="8.1" height="1.60" fill="#f57748"/>
<rect x="441.5" y="157.32" width="8.1" height="1.60" fill="#f57547"/>
<rect x="441.5" y="156.32" width="8.1" height="1.60" fill="#f47044"/>
<rect x="441.5" y="155.32" width="8.1" height="1.60" fill="#f36b42"/>
<rect x="441.5" y="154.32" width="8.1" height="1.60" fill="#f26841"/>
<rect x="441.5" y="153.33" width="8.1" height="1.60" fill="#ef633f"/>
<rect x="441.5" y="152.33" width="8.1" height="1.60" fill="#ed5f3c"/>
<rect x="441.5" y="151.33" width="8.1" height="1.60" fill="#ec5c3b"/>
<rect x="441.5" y="150.34" width="8.1" height="1.60" fill="#ea5739"/>
<rect x="441.5" y="149.34" width="8.1" height="1.60" fill="#e75337"/>
<rect x="441.5" y="148.34" width="8.1" height="1.60" fill="#e65036"/>
<rect x="441.5" y="147.34" width="8.1" height="1.60" fill="#e44c34"/>
<rect x="441.5" y="146.35" width="8.1" height="1.60" fill="#e24731"/>
<rect x="441.5" y="145.35" width="8.1" height="1.60" fill="#e14430"/>
<rect x="441.5" y="144.35" width="8.1" height="1.60" fill="#de402e"/>
<rect x="441.5" y="143.35" width="8.1" height="1.60" fill="#dc3b2c"/>
<rect x="441.5" y="142.36" width="8.1" height="1.60" fill="#db382b"/>
<rect x="441.5" y="141.36" width="8.1" height="1.60" fill="#d93429"/>
<rect x="441.5" y="140.36" width="8.1" height="1.60" fill="#d62f27"/>
<rect x="441.5" y="139.36" width="8.1" height="1.60" fill="#d42d27"/>
<rect x="441.5" y="138.37" width="8.1" height="1.60" fill="#d02927"/>
<rect x="441.5" y="137.37" width="8.1" height="1.60" fill="#cc2627"/>
<rect x="441.5" y="136.37" width="8.1" height="1.60" fill="#ca2427"/>
<rect x="441.5" y="135.37" width="8.1" height="1.60" fill="#c62027"/>
<rect x="441.5" y="134.38" width="8.1" height="1.60" fill="#c21c27"/>
<rect x="441.5" y="133.38" width="8.1" height="1.60" fill="#c01a27"/>
<rect x="441.5" y="132.38" width="8.1" height="1.60" fill="#bd1726"/>
<rect x="441.5" y="131.38" width="8.1" height="1.60" fill="#b91326"/>
<rect x="441.5" y="130.39" width="8.1" height="1.60" fill="#b71126"/>
<rect x="441.5" y="129.39" width="8.1" height="1.60" fill="#b30d26"/>
<rect x="441.5" y="128.39" width="8.1" height="1.60" fill="#af0926"/>
<rect x="441.5" y="127.39" width="8.1" height="1.60" fill="#ad0826"/>
<rect x="441.5" y="126.40" width="8.1" height="1.60" fill="#a90426"/>
<rect x="441.5" y="125.40" width="8.1" height="1.60" fill="#a50026"/>
</g>
<rect x="441.5" y="125.4" width="8.1" height="153.6" fill="none" stroke="#000" stroke-width="1.1"/>
<line x1="450.1" y1="279.00" x2="454.6" y2="279.00" stroke="#000" stroke-width="1.1"/>
<text class="t10" x="458.3" y="283.60">0.0</text>
<line x1="450.1" y1="248.28" x2="454.6" y2="248.28" stroke="#000" stroke-width="1.1"/>
<text class="t10" x="458.3" y="252.88">0.2</text>
<line x1="450.1" y1="217.56" x2="454.6" y2="217.56" stroke="#000" stroke-width="1.1"/>
<text class="t10" x="458.3" y="222.16">0.4</text>
<line x1="450.1" y1="186.84" x2="454.6" y2="186.84" stroke="#000" stroke-width="1.1"/>
<text class="t10" x="458.3" y="191.44">0.6</text>
<line x1="450.1" y1="156.12" x2="454.6" y2="156.12" stroke="#000" stroke-width="1.1"/>
<text class="t10" x="458.3" y="160.72">0.8</text>
<line x1="450.1" y1="125.40" x2="454.6" y2="125.40" stroke="#000" stroke-width="1.1"/>
<text class="t10" x="458.3" y="130.00">1.0</text>
<text class="t10" x="547.3" y="32.80">Iterations: 200</text>
<text class="t10" x="547.3" y="65.30">nll: -1241.923254923793</text>
<text class="t10" x="547.3" y="97.80">σ = 2.12e-05</text>
<text class="t10" x="547.3" y="130.30">,η_ψ = 5052.53</text>
<text class="t10" x="547.3" y="162.80">ℓ_ψ = 12957.90</text>
<text class="t10" x="547.3" y="195.30">η_uv = 1.83e-01</text>
<text class="t10" x="547.3" y="227.80">ℓ_uv = 10035.18</text>
<text class="t10" x="547.3" y="260.30">η_q = 1.42e-08</text>
<text class="t10" x="547.3" y="292.80">ℓ_q = 39779.73</text>
</svg></body></html>
